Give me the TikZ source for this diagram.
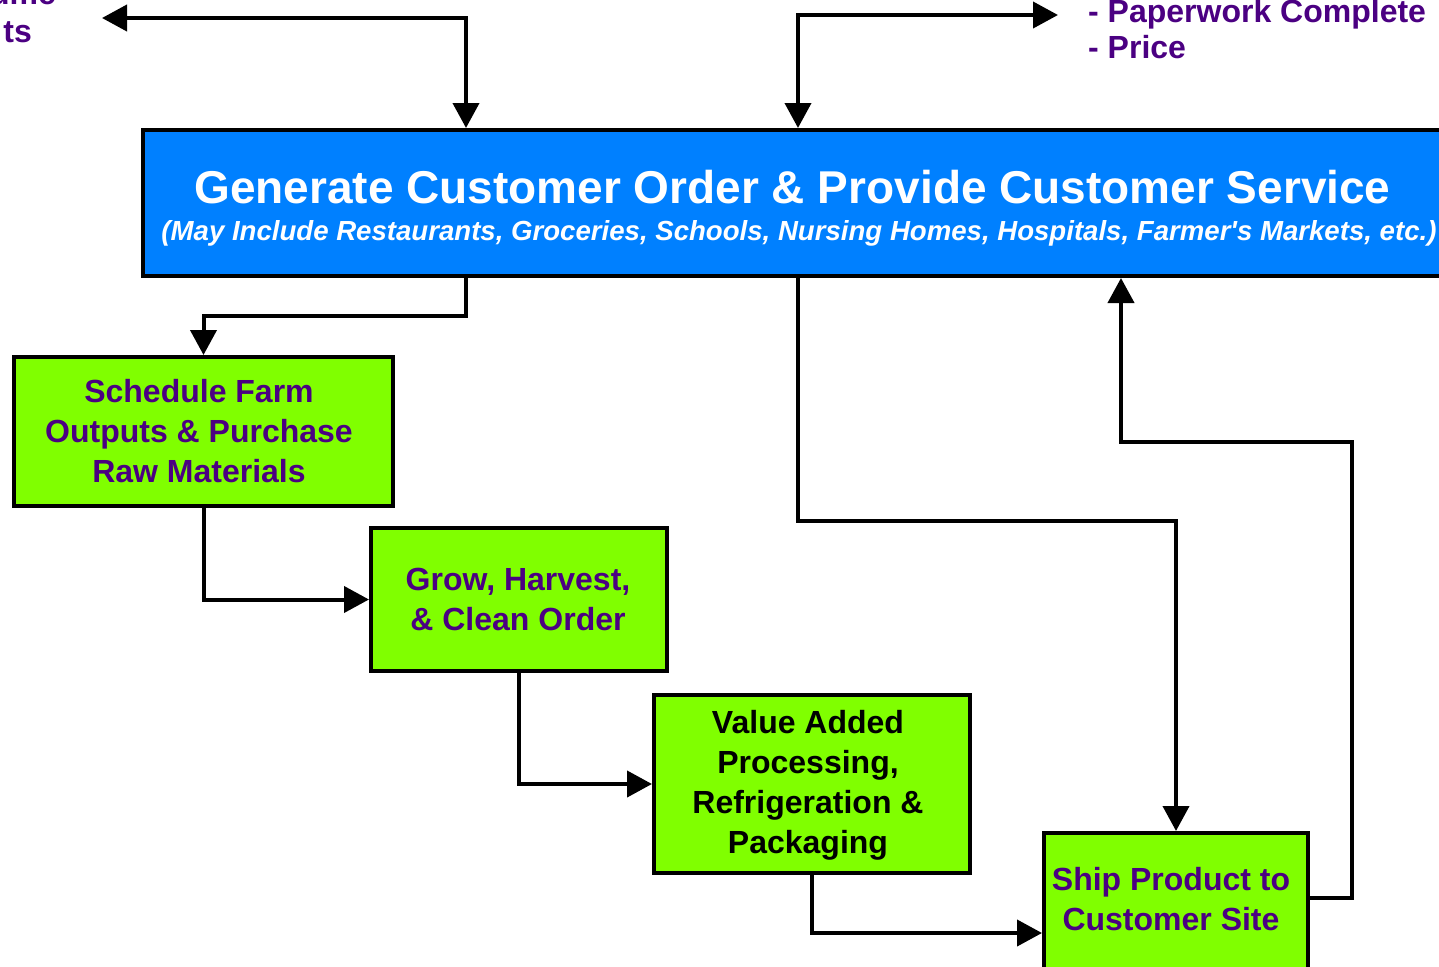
\documentclass[tikz,border=0pt]{standalone}
\usepackage{fontspec}
\setmainfont{Liberation Sans}
\newfontfamily\subfont{Liberation Sans}
\usetikzlibrary{arrows.meta}
\definecolor{boxblue}{RGB}{0,128,255}
\definecolor{boxgreen}{RGB}{128,255,0}
\definecolor{txtpurple}{RGB}{75,0,130}
\tikzset{
  box/.style={draw=black, line width=4pt, fill=boxgreen, inner sep=0pt},
  boxtext/.style={align=center, inner sep=0pt, anchor=base,
    font=\fontsize{32pt}{40pt}\selectfont\bfseries, text=txtpurple},
  conn/.style={draw=black, line width=4pt, line join=miter},
  tipshape/.style={-{Triangle[length=25pt,width=26pt]}},
  bothtips/.style={{Triangle[length=25pt,width=26pt]}-{Triangle[length=25pt,width=26pt]}},
  lbl/.style={inner sep=0pt, font=\fontsize{32pt}{35pt}\selectfont\bfseries, text=txtpurple}
}
\begin{document}
\begin{tikzpicture}[x=1pt,y=-1pt]
\useasboundingbox (0,0) rectangle (1439,966);
\clip (0,0) rectangle (1439,966);
% boxes
\node[draw=black, line width=4pt, fill=boxblue, minimum width=1327pt, minimum height=146pt, inner sep=0pt] (blue) at (806.5,203) {};
\node[inner sep=0pt, anchor=base, text=white, font=\fontsize{46pt}{50pt}\selectfont\bfseries] (title) at (792.5,203) {Generate Customer Order \& Provide Customer Service};
\node[inner sep=0pt, anchor=base, text=white, font=\fontsize{27.6pt}{30pt}\subfont\bfseries\itshape] (sub) at (799,240) {(May Include Restaurants, Groceries, Schools, Nursing Homes, Hospitals, Farmer's Markets, etc.)};
\node[box, minimum width=379pt, minimum height=149pt] (b1) at (203.5,431.5) {};
\node[box, minimum width=296pt, minimum height=143pt] (b2) at (519,599.5) {};
\node[box, minimum width=316pt, minimum height=178pt] (b3) at (812,784) {};
\node[box, minimum width=264pt, minimum height=142pt] (b4) at (1176,904) {};
\node[boxtext] (b1t) at (199,482) {Schedule Farm\\Outputs \& Purchase\\Raw Materials};
\node[boxtext] (b2t) at (518,630) {Grow, Harvest,\\\& Clean Order};
\node[boxtext, text=black] (b3t) at (808,853) {Value Added\\Processing,\\Refrigeration \&\\Packaging};
\node[boxtext] (b4t) at (1171,930) {Ship Product to\\Customer Site};
% side labels
\node[lbl, anchor=base east] (lt1) at (56,5) {ume};
\node[lbl, anchor=base east] (lt2) at (32,43) {ts};
\node[lbl, anchor=base west] (rt1) at (1088,23) {- Paperwork Complete};
\node[lbl, anchor=base west] (rt2) at (1088,59) {- Price};
% coordinates
\coordinate (tl) at (102,18);
\coordinate (tr) at (1058,15);
\coordinate (x466) at (466,0);
\coordinate (x798) at (798,0);
\coordinate (j1) at (466,316);
\coordinate (j6) at (812,933);
\coordinate (j7) at (798,521);
\coordinate (j8) at (1352,898);
\coordinate (j8b) at (1121,442);
% connectors
\draw[conn, bothtips] (tl) -| (blue.north -| x466);
\draw[conn, bothtips] (blue.north -| x798) |- (tr);
\draw[conn, tipshape] (blue.south -| j1) -- (j1) -| (b1.north);
\draw[conn, tipshape] (b1.south) |- (b2.west);
\draw[conn, tipshape] (b2.south) |- (b3.west);
\draw[conn, tipshape] (b3.south) -- (j6) -- (b4.west |- j6);
\draw[conn, tipshape] (blue.south -| j7) -- (j7) -| (b4.north);
\draw[conn, tipshape] (b4.east |- j8) -- (j8) |- (j8b) -- (blue.south -| j8b);
\end{tikzpicture}
\end{document}
